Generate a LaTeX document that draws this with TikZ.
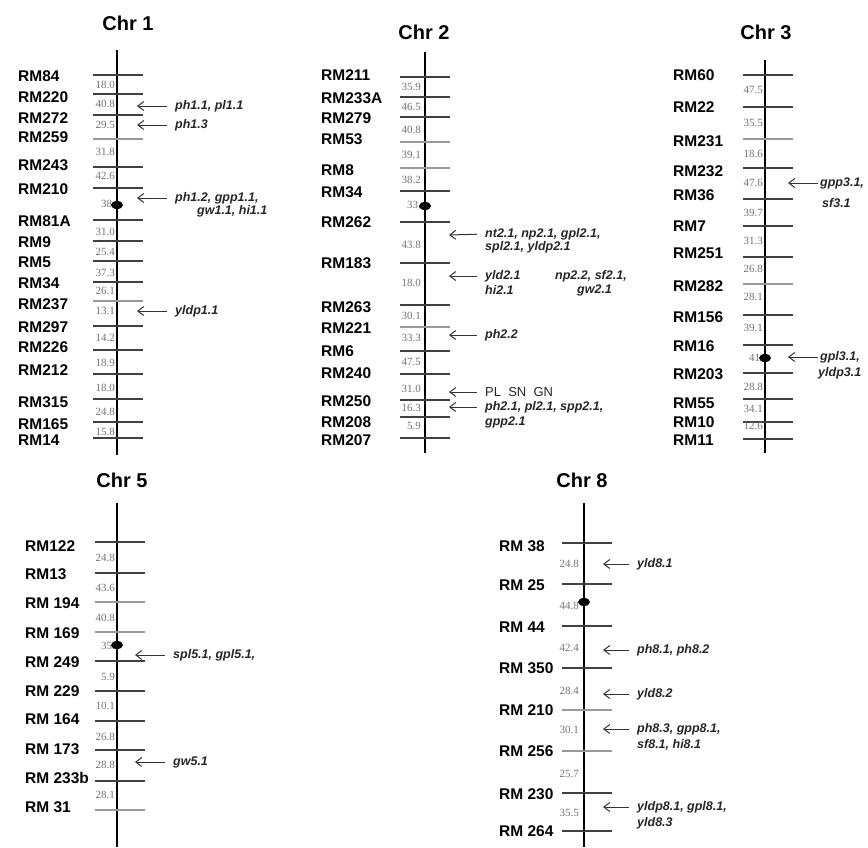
\documentclass[tikz,border=0pt]{standalone}
\usepackage{fontspec}
\setmainfont{Liberation Serif}
\setsansfont{Liberation Sans}
\usetikzlibrary{arrows.meta}

\begin{document}
\begin{tikzpicture}[x=1pt, y=-1pt,
  chrom/.style={line width=2pt, black},
  mline/.style={line width=1.4pt},
  mdark/.style={black!75},
  mlight/.style={black!40},
  rmlabel/.style={anchor=west, inner sep=0pt, font=\sffamily\bfseries\fontsize{15.5}{16}\selectfont},
  ttl/.style={inner sep=0pt, font=\sffamily\bfseries\fontsize{20}{20}\selectfont},
  dist/.style={anchor=east, inner sep=0pt, text=black!55, font=\fontsize{11}{11}\selectfont},
  qtl/.style={anchor=west, inner sep=0pt, text=black!85, font=\sffamily\bfseries\itshape\fontsize{12.5}{14}\selectfont},
  qarr/.style={-{Straight Barb[length=6pt, width=9pt]}, black!80, line width=1pt, shorten <=8pt}]
  \useasboundingbox (0,0) rectangle (868,847);

  % Chr 1
  \node[ttl] (t1) at (128,23) {Chr 1};
  \draw[chrom] (117,50) -- (117,455);
  \foreach \y/\ly/\m/\c [count=\i] in {75/76/RM84/mdark, 94/97/RM220/mdark, 115/118/RM272/mdark,
      139/137/RM259/mlight, 167/165/RM243/mdark, 188/189/RM210/mdark, 220/221/RM81A/mdark, 241/242/RM9/mdark,
      261/262/RM5/mdark, 282/283/RM34/mdark, 301/304/RM237/mlight, 326/327/RM297/mdark, 350/347/RM226/mdark,
      374/370/RM212/mdark, 399/402/RM315/mdark, 422/424/RM165/mdark, 438/440/RM14/mdark}{
    \draw[mline, \c] (93,\y) -- (143,\y);
    \node[rmlabel] (c1m\i) at (18,\ly) {\m};
  }
  \foreach \y/\d [count=\i] in {85/18.0, 104/40.8, 125/29.5, 152/31.8, 176/42.6, 204/38.,
      232/31.0, 252/25.4, 273/37.3, 291/26.1, 311/13.1, 338/14.2, 363/18.9, 388/18.0,
      412/24.8, 432/15.8}
    \node[dist] (c1d\i) at (115,\y) {\d};
  \fill (117,205) ellipse [x radius=6, y radius=4];

  \node[qtl] (q1a) at (175,106) {ph1.1, pl1.1};
  \node[qtl] (q1b) at (175,125) {ph1.3};
  \node[qtl] (q1c) at (175,198) {ph1.2, gpp1.1,};
  \node[qtl] (q1c2) at (197,211) {gw1.1, hi1.1};
  \node[qtl] (q1d) at (175,311) {yldp1.1};
  \coordinate (p1a) at (137,106);
  \coordinate (p1b) at (137,125);
  \coordinate (p1c) at (137,198);
  \coordinate (p1d) at (137,311);
  \draw[qarr] (q1a.west) -- (p1a);
  \draw[qarr] (q1b.west) -- (p1b);
  \draw[qarr] (q1c.west) -- (p1c);
  \draw[qarr] (q1d.west) -- (p1d);

  % Chr 2
  \node[ttl] (t2) at (424,32) {Chr 2};
  \draw[chrom] (425,52) -- (425,453);
  \foreach \y/\ly/\m/\c [count=\i] in {77/75/RM211/mdark, 97/98/RM233A/mdark, 117/118/RM279/mdark,
      142/139/RM53/mlight, 168/170/RM8/mlight, 191/192/RM34/mdark, 222/222/RM262/mdark, 263/263/RM183/mdark,
      305/307/RM263/mdark, 327/328/RM221/mlight, 351/351/RM6/mdark, 374/373/RM240/mdark, 400/401/RM250/mdark,
      417/422/RM208/mdark, 438/440/RM207/mdark}{
    \draw[mline, \c] (400,\y) -- (450,\y);
    \node[rmlabel] (c2m\i) at (321,\ly) {\m};
  }
  \foreach \y/\d [count=\i] in {87/35.9, 107/46.5, 130/40.8, 155/39.1, 180/38.2, 205/33.,
      245/43.8, 283/18.0, 316/30.1, 338/33.3, 362/47.5, 389/31.0, 408/16.3, 426/5.9}
    \node[dist] (c2d\i) at (421,\y) {\d};
  \fill (425,206) ellipse [x radius=6, y radius=4];

  \node[qtl] (q2a) at (485,234) {nt2.1, np2.1, gpl2.1,};
  \node[qtl] (q2a2) at (485,247) {spl2.1, yldp2.1};
  \node[qtl] (q2b) at (485,276) {yld2.1};
  \node[qtl] (q2b2) at (485,290) {hi2.1};
  \node[qtl] (q2b3) at (555,276) {np2.2, sf2.1,};
  \node[qtl] (q2b4) at (577,290) {gw2.1};
  \node[qtl] (q2c) at (485,335) {ph2.2};
  \node[qtl, font=\sffamily\fontsize{13}{14}\selectfont] (q2d) at (485,392) {PL\ \ SN\ \ GN};
  \node[qtl] (q2e) at (485,407) {ph2.1, pl2.1, spp2.1,};
  \node[qtl] (q2e2) at (485,422) {gpp2.1};
  \coordinate (p2a) at (449,235);
  \coordinate (p2b) at (449,276);
  \coordinate (p2c) at (449,335);
  \coordinate (p2d) at (449,392);
  \coordinate (p2e) at (449,407);
  \draw[qarr] (q2a.west) -- (p2a);
  \draw[qarr] (q2b.west) -- (p2b);
  \draw[qarr] (q2c.west) -- (p2c);
  \draw[qarr] (q2d.west) -- (p2d);
  \draw[qarr] (q2e.west) -- (p2e);

  % Chr 3
  \node[ttl] (t3) at (766,32) {Chr 3};
  \draw[chrom] (765,60) -- (765,453);
  \foreach \y/\ly/\m/\c [count=\i] in {75/75/RM60/mdark, 107/107/RM22/mdark, 139/141/RM231/mlight,
      168/171/RM232/mdark, 199/195/RM36/mdark, 226/226/RM7/mdark, 257/253/RM251/mdark, 284/286/RM282/mlight,
      315/317/RM156/mdark, 345/346/RM16/mdark, 373/374/RM203/mdark, 399/403/RM55/mdark, 422/422/RM10/mdark,
      439/440/RM11/mdark}{
    \draw[mline, \c] (743,\y) -- (793,\y);
    \node[rmlabel] (c3m\i) at (673,\ly) {\m};
  }
  \foreach \y/\d [count=\i] in {90/47.5, 123/35.5, 154/18.6, 183/47.6, 213/39.7, 241/31.3,
      269/26.8, 297/28.1, 328/39.1, 358/41., 387/28.8, 409/34.1, 426/12.6}
    \node[dist] (c3d\i) at (763,\y) {\d};
  \fill (765,358) ellipse [x radius=6, y radius=4];

  \node[qtl] (q3a) at (820,183) {gpp3.1,};
  \node[qtl] (q3a2) at (822,203) {sf3.1};
  \node[qtl] (q3b) at (820,357) {gpl3.1,};
  \node[qtl] (q3b2) at (818,373) {yldp3.1};
  \coordinate (p3a) at (788,183);
  \coordinate (p3b) at (788,357);
  \draw[qarr, shorten <=2pt] (q3a.west) -- (p3a);
  \draw[qarr, shorten <=2pt] (q3b.west) -- (p3b);

  % Chr 5
  \node[ttl] (t5) at (122,480) {Chr 5};
  \draw[chrom] (117,503) -- (117,847);
  \foreach \y/\ly/\m/\c [count=\i] in {542/546/RM122/mdark, 573/574/RM13/mdark, 602/603/RM 194/mlight,
      632/633/RM 169/mlight, 661/662/RM 249/mdark, 691/691/RM 229/mdark, 721/719/RM 164/mdark,
      750/749/RM 173/mdark, 781/778/RM 233b/mdark, 810/807/RM 31/mlight}{
    \draw[mline, \c] (95,\y) -- (145,\y);
    \node[rmlabel] (c5m\i) at (25,\ly) {\m};
  }
  \foreach \y/\d [count=\i] in {558/24.8, 588/43.6, 618/40.8, 646/35., 677/5.9, 706/10.1,
      737/26.8, 765/28.8, 795/28.1}
    \node[dist] (c5d\i) at (115,\y) {\d};
  \fill (117,645) ellipse [x radius=6, y radius=4];

  \node[qtl] (q5a) at (173,655) {spl5.1, gpl5.1,};
  \node[qtl] (q5b) at (173,762) {gw5.1};
  \coordinate (p5a) at (135,655);
  \coordinate (p5b) at (135,762);
  \draw[qarr] (q5a.west) -- (p5a);
  \draw[qarr] (q5b.west) -- (p5b);

  % Chr 8
  \node[ttl] (t8) at (582,480) {Chr 8};
  \draw[chrom] (584,503) -- (584,847);
  \foreach \y/\ly/\m/\c [count=\i] in {543/546/RM 38/mdark, 584/585/RM 25/mdark, 626/627/RM 44/mdark,
      668/668/RM 350/mdark, 710/710/RM 210/mlight, 751/751/RM 256/mlight, 793/794/RM 230/mdark,
      831/831/RM 264/mdark}{
    \draw[mline, \c] (562,\y) -- (612,\y);
    \node[rmlabel] (c8m\i) at (499,\ly) {\m};
  }
  \foreach \y/\d [count=\i] in {564/24.8, 606/44.8, 648/42.4, 691/28.4, 730/30.1, 774/25.7,
      813/35.5}
    \node[dist] (c8d\i) at (579,\y) {\d};
  \fill (584,602) ellipse [x radius=6, y radius=4];

  \node[qtl] (q8a) at (637,564) {yld8.1};
  \node[qtl] (q8b) at (637,650) {ph8.1, ph8.2};
  \node[qtl] (q8c) at (637,694) {yld8.2};
  \node[qtl] (q8d) at (637,729) {ph8.3, gpp8.1,};
  \node[qtl] (q8d2) at (637,745) {sf8.1, hi8.1};
  \node[qtl] (q8e) at (637,807) {yldp8.1, gpl8.1,};
  \node[qtl] (q8e2) at (637,823) {yld8.3};
  \coordinate (p8a) at (603,564);
  \coordinate (p8b) at (603,650);
  \coordinate (p8c) at (603,694);
  \coordinate (p8d) at (603,729);
  \coordinate (p8e) at (603,807);
  \draw[qarr] (q8a.west) -- (p8a);
  \draw[qarr] (q8b.west) -- (p8b);
  \draw[qarr] (q8c.west) -- (p8c);
  \draw[qarr] (q8d.west) -- (p8d);
  \draw[qarr] (q8e.west) -- (p8e);
\end{tikzpicture}
\end{document}
